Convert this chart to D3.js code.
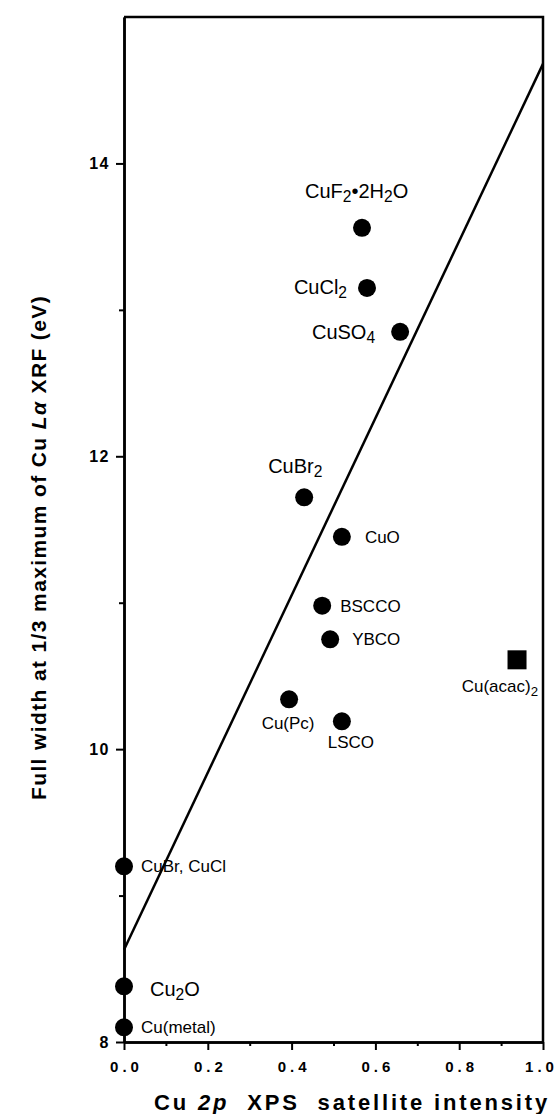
<!DOCTYPE html>
<meta charset="utf-8">
<style>
body { margin: 0; background: #fff; }
svg { font-family: "Liberation Sans", Arial, sans-serif; }
.axis path, .axis line { stroke: #000; }
.axis path { stroke-width: 2.5px; }
.axis line { stroke-width: 2px; }
.axis text { font-weight: bold; fill: #000; font-family: "Liberation Sans", Arial, sans-serif; }
.fit { fill: none; stroke: #000; stroke-width: 2.5px; }
.lbl { fill: #000; }
</style>
<svg width="558" height="1114"></svg>
<script src="https://cdn.jsdelivr.net/npm/d3@7"></script>
<script>

// values
var compounds = ["CuF_2•2H_2O", "CuCl_2", "CuSO_4", "CuBr_2", "CuO", "BSCCO", "YBCO",
                 "Cu(Pc)", "LSCO", "Cu(acac)_2", "CuBr, CuCl", "Cu_2O", "Cu(metal)"];
var satellite = [0.568, 0.580, 0.659, 0.430, 0.520, 0.473, 0.492, 0.394, 0.520, 0.938, 0, 0, 0];
var fwhm = [13.56, 13.15, 12.85, 11.72, 11.45, 10.98, 10.75, 10.34, 10.19, 10.61, 9.20, 8.38, 8.10];
var squareMarker = ["Cu(acac)_2"];
var fitX = [0, 1];
var fitY = [8.63, 14.68];
var xMajor = [0, 0.2, 0.4, 0.6, 0.8, 1.0];
var xMinor = [0.1, 0.3, 0.5, 0.7, 0.9];
var yMajor = [8, 10, 12, 14];
var yMinor = [9, 11, 13];

// label placement: dx, dy from the marker centre, anchor, font size
var labelPos = {
  "CuF_2•2H_2O": [-57, -30, "start", 20],
  "CuCl_2":      [-20, 6, "end", 20],
  "CuSO_4":      [-25, 7, "end", 20],
  "CuBr_2":      [-36, -24, "start", 20],
  "CuO":         [23, 6, "start", 17],
  "BSCCO":       [18, 6, "start", 17],
  "YBCO":        [22, 6, "start", 17],
  "Cu(Pc)":      [-1, 30, "middle", 17],
  "LSCO":        [9, 27, "middle", 17],
  "Cu(acac)_2":  [21, 32, "end", 17],
  "CuBr, CuCl":  [17, 6, "start", 17],
  "Cu_2O":       [26, 10, "start", 20],
  "Cu(metal)":   [17, 6, "start", 17]
};

var svg = d3.select("svg"),
    margin = {top: 17, right: 15, bottom: 72, left: 124},
    width = svg.attr("width") - margin.left - margin.right,
    height = svg.attr("height") - margin.top - margin.bottom,
    g = svg.append("g").attr("transform", "translate(" + margin.left + "," + margin.top + ")");

var x = d3.scaleLinear().domain([0, 1]).range([0, width]),
    y = d3.scaleLinear().domain([8, 15]).range([height, 0]);

var points = compounds.map(function(c, i) {
  return {name: c, x: satellite[i], y: fwhm[i]};
});

// frame: top and right edges
g.append("path")
    .attr("d", "M0,0H" + width + "V" + height)
    .attr("fill", "none")
    .attr("stroke", "#000")
    .attr("stroke-width", 2.5);

// minor ticks
g.append("g")
    .attr("class", "axis")
    .attr("transform", "translate(0," + height + ")")
    .call(d3.axisBottom(x).tickValues(xMinor).tickSize(4).tickSizeOuter(0).tickFormat(""));
g.append("g")
    .attr("class", "axis")
    .call(d3.axisLeft(y).tickValues(yMinor).tickSize(5).tickSizeOuter(0).tickFormat(""));

// major ticks
var xAxis = g.append("g")
    .attr("class", "axis")
    .attr("transform", "translate(0," + height + ")")
    .call(d3.axisBottom(x).tickValues(xMajor).tickSize(8).tickSizeOuter(0).tickFormat(d3.format(".1f")))
    .attr("font-family", null);
xAxis.selectAll("text")
    .attr("y", 19)
    .attr("dy", "0.71em")
    .attr("dx", 2)
    .style("font-size", "15px")
    .style("letter-spacing", "4px");
xAxis.selectAll("text").filter(function(d) { return d == 1; })
    .attr("dx", -2);

var yAxis = g.append("g")
    .attr("class", "axis")
    .call(d3.axisLeft(y).tickValues(yMajor).tickSize(8).tickSizeOuter(0).tickFormat(d3.format("d")))
    .attr("font-family", null);
yAxis.selectAll("text")
    .attr("x", -14)
    .style("font-size", "16px")
    .style("letter-spacing", "1.5px");

// fit line
var line = d3.line()
    .x(function(d) { return x(d[0]); })
    .y(function(d) { return y(d[1]); });
g.append("path")
    .attr("class", "fit")
    .attr("d", line(fitX.map(function(v, i) { return [v, fitY[i]]; })));

// markers
g.selectAll(".dot")
    .data(points.filter(function(d) { return squareMarker.indexOf(d.name) < 0; }))
  .enter().append("circle")
    .attr("class", "dot")
    .attr("cx", function(d) { return x(d.x); })
    .attr("cy", function(d) { return y(d.y); })
    .attr("r", 9)
    .attr("fill", "#000");

g.selectAll(".sq")
    .data(points.filter(function(d) { return squareMarker.indexOf(d.name) >= 0; }))
  .enter().append("rect")
    .attr("class", "sq")
    .attr("x", function(d) { return x(d.x) - 9.5; })
    .attr("y", function(d) { return y(d.y) - 9.5; })
    .attr("width", 19)
    .attr("height", 19)
    .attr("fill", "#000");

// labels, "_n" marks a subscript
g.selectAll(".lbl")
    .data(points)
  .enter().append("text")
    .attr("class", "lbl")
    .attr("x", function(d) { return x(d.x) + labelPos[d.name][0]; })
    .attr("y", function(d) { return y(d.y) + labelPos[d.name][1]; })
    .attr("text-anchor", function(d) { return labelPos[d.name][2]; })
    .style("font-size", function(d) { return labelPos[d.name][3] + "px"; })
    .each(function(d) {
      var t = d3.select(this),
          parts = d.name.split(/_(\d)/),
          shift = 0;
      parts.forEach(function(p, i) {
        if (!p) return;
        var sub = i % 2 == 1;
        var dy = sub ? 4 - shift : -shift;
        shift = sub ? 4 : 0;
        t.append("tspan")
            .attr("dy", dy)
            .style("font-size", sub ? "0.78em" : null)
            .text(p);
      });
    });

// axis titles, stretched to the width they take in the figure
function spread(sel, target) {
  var n = sel.text().length;
  var len = sel.node().getComputedTextLength();
  sel.style("letter-spacing", ((target - len) / n) + "px");
}

var xt = svg.append("text")
    .attr("x", 154)
    .attr("y", 1110)
    .style("font-size", "22px")
    .style("font-weight", "bold");
xt.append("tspan").text("Cu ");
xt.append("tspan").style("font-style", "italic").text("2p");
xt.append("tspan").attr("xml:space", "preserve").text("  XPS  satellite intensity");
spread(xt, 396);

var yt = svg.append("text")
    .attr("transform", "translate(46,800) rotate(-90)")
    .style("font-size", "21px")
    .style("font-weight", "bold");
yt.append("tspan").text("Full width at 1/3 maximum of Cu ");
yt.append("tspan").style("font-style", "italic").text("Lα");
yt.append("tspan").text(" XRF (eV)");
spread(yt, 505);

</script>
